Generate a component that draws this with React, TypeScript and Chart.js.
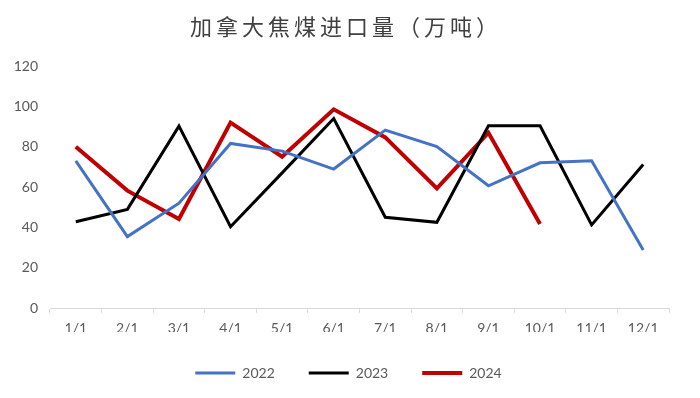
import React, { useEffect, useRef } from "react";
import { Chart, registerables } from "chart.js";

Chart.register(...registerables);

const TITLE = "加拿大焦煤进口量（万吨）";
const categories = ["1/1", "2/1", "3/1", "4/1", "5/1", "6/1", "7/1", "8/1", "9/1", "10/1", "11/1", "12/1"];
const seriesNames = ["2022", "2023", "2024"];
const values2022 = [73, 35.4, 52, 81.6, 77.8, 68.9, 88.2, 80, 60.6, 72, 73, 28.8];
const values2023 = [42.8, 48.9, 90.2, 40.3, 67, 94, 45, 42.5, 90.4, 90.4, 41.2, 71.2];
const values2024 = [80, 58.2, 44.1, 91.9, 75, 98.5, 84.6, 59.3, 86.9, 41.6, null, null];
const yTicks = { min: 0, max: 120, step: 20 };

const titlePlugin = {
  id: "spacedTitle",
  afterLayout(chart: any) {
    if (chart.legend) {
      chart.legend.left += 14;
      chart.legend.right += 14;
    }
  },
  afterDraw(chart: any) {
    const ctx = chart.ctx;
    ctx.save();
    ctx.font = '22px "Noto Sans CJK SC"';
    ctx.fillStyle = "#404040";
    ctx.textAlign = "center";
    ctx.textBaseline = "middle";
    try {
      (ctx as any).letterSpacing = "4px";
    } catch (e) {}
    ctx.fillText(TITLE, 346, 27);
    ctx.restore();
  },
};

export default function App() {
  const ref = useRef<HTMLCanvasElement | null>(null);
  useEffect(() => {
    document.body.style.margin = "0";
    if (!ref.current) return;
    const font = { family: "Lato", size: 14 };
    const chart = new Chart(ref.current, {
      type: "line",
      data: {
        labels: categories,
        datasets: [
          { label: seriesNames[0], data: values2022, borderColor: "#4472C4", backgroundColor: "#4472C4", borderWidth: 3 },
          { label: seriesNames[1], data: values2023, borderColor: "#000000", backgroundColor: "#000000", borderWidth: 3 },
          { label: seriesNames[2], data: values2024, borderColor: "#C00000", backgroundColor: "#C00000", borderWidth: 4 },
        ].map((d) => ({ ...d, pointRadius: 0, pointHoverRadius: 0, tension: 0, fill: false, spanGaps: false })),
      },
      options: {
        animation: false,
        responsive: false,
        maintainAspectRatio: false,
        layout: { padding: { top: 66, right: 31, bottom: 8, left: 0 } },
        plugins: {
          title: { display: false },
          tooltip: { enabled: false },
          legend: {
            position: "bottom",
            labels: { boxWidth: 40, boxHeight: 0, padding: 34, color: "#595959", font },
          },
        },
        scales: {
          x: {
            offset: true,
            grid: { offset: true, drawOnChartArea: false, color: "#d9d9d9", tickLength: 5 },
            border: { color: "#d9d9d9", width: 1 },
            ticks: { color: "#595959", font, padding: 7, maxRotation: 0, autoSkip: false },
            afterFit: (s: any) => { s.height = 24; },
          },
          y: {
            min: yTicks.min,
            max: yTicks.max,
            grid: { display: false, drawTicks: false },
            border: { display: false },
            ticks: { stepSize: yTicks.step, color: "#595959", font, padding: 12 },
            afterFit: (s: any) => { s.width = 50; },
          },
        },
      },
      plugins: [titlePlugin],
    });
    return () => chart.destroy();
  }, []);
  return (
    <div style={{ width: 700, height: 398 }}>
      <canvas ref={ref} width={700} height={398} />
    </div>
  );
}
